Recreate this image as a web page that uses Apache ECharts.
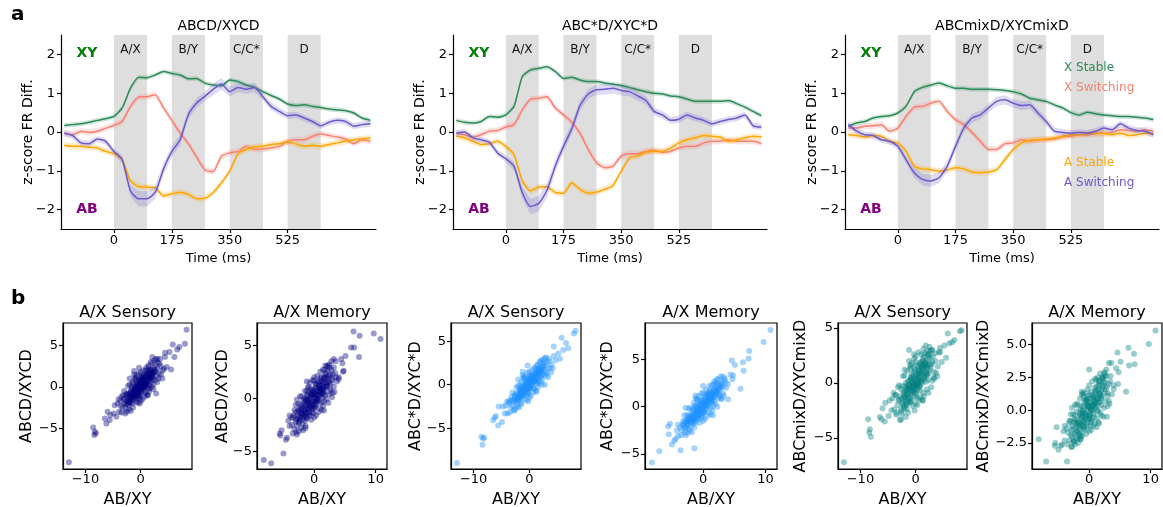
<!DOCTYPE html>
<html>
<head>
<meta charset="utf-8">
<script src="https://cdn.jsdelivr.net/npm/echarts@6/dist/echarts.min.js"></script>
<style>
  html, body { margin: 0; padding: 0; background: #fff; }
  #chart { width: 1163px; height: 507px; }
</style>
</head>
<body>
<div id="chart"></div>
<script>
// ---------- time courses (z-scored firing-rate difference) ----------
const timeMs = [-150, -125, -100, -75, -50, -25, 0, 25, 50, 75, 100, 125, 150, 175, 200, 225, 250, 275, 300,
  325, 350, 375, 400, 425, 450, 475, 500, 525, 550, 575, 600, 625, 650, 675, 700, 725, 750, 775];
const timeTicks = [0, 175, 350, 525];
const zTicks = [-2, -1, 0, 1, 2];

// stimulus epochs
const epochStart = [0, 175, 350, 525];
const epochEnd = [100, 275, 450, 625];
const epochLabel = ['A/X', 'B/Y', 'C/C*', 'D'];

const lineNames = ['X Stable', 'X Switching', 'A Stable', 'A Switching'];

// ABCD/XYCD
const xStable_ABCD = [0.17, 0.19, 0.21, 0.25, 0.30, 0.34, 0.40, 0.62, 1.13, 1.41, 1.40, 1.47, 1.56, 1.51, 1.47, 1.37, 1.38, 1.26, 1.21,
  1.19, 1.34, 1.30, 1.21, 1.15, 1.04, 0.94, 0.85, 0.72, 0.68, 0.70, 0.66, 0.63, 0.59, 0.57, 0.55, 0.49, 0.36, 0.30];
const xSwitch_ABCD = [-0.03, -0.07, 0.02, -0.01, 0.02, 0.10, 0.17, 0.27, 0.66, 0.90, 0.91, 0.96, 0.62, 0.30, -0.03, -0.30, -0.65, -0.98, -1.02,
  -0.62, -0.54, -0.50, -0.37, -0.45, -0.44, -0.41, -0.37, -0.24, -0.20, -0.20, -0.11, -0.05, -0.09, -0.13, -0.18, -0.30, -0.20, -0.24];
const aStable_ABCD = [-0.34, -0.37, -0.37, -0.39, -0.41, -0.50, -0.56, -0.71, -1.26, -1.41, -1.42, -1.44, -1.65, -1.59, -1.55, -1.61, -1.72, -1.71, -1.56,
  -1.31, -1.01, -0.56, -0.45, -0.38, -0.37, -0.32, -0.30, -0.26, -0.31, -0.37, -0.34, -0.37, -0.32, -0.28, -0.24, -0.20, -0.18, -0.15];
const aSwitch_ABCD = [-0.03, -0.09, -0.28, -0.30, -0.18, -0.24, -0.50, -0.71, -1.52, -1.72, -1.72, -1.55, -0.95, -0.50, -0.20, 0.45, 0.75, 0.92, 1.10,
  1.24, 1.04, 1.15, 1.10, 1.15, 0.91, 0.66, 0.53, 0.42, 0.44, 0.36, 0.27, 0.16, 0.25, 0.30, 0.27, 0.15, 0.19, 0.21];
const aSwitchSem_ABCD = [0.08, 0.08, 0.08, 0.08, 0.08, 0.08, 0.08, 0.10, 0.15, 0.20, 0.20, 0.18, 0.15, 0.14, 0.14, 0.13, 0.12, 0.12, 0.15,
  0.15, 0.13, 0.12, 0.12, 0.12, 0.10, 0.10, 0.09, 0.09, 0.08, 0.08, 0.08, 0.08, 0.08, 0.08, 0.08, 0.08, 0.08, 0.08];

// ABC*D/XYC*D
const xStable_ABCstarD = [0.30, 0.25, 0.23, 0.27, 0.40, 0.38, 0.44, 0.66, 1.43, 1.60, 1.64, 1.68, 1.56, 1.38, 1.41, 1.34, 1.30, 1.30, 1.26,
  1.23, 1.20, 1.15, 1.09, 1.04, 1.00, 0.98, 0.93, 0.91, 0.85, 0.79, 0.79, 0.79, 0.79, 0.81, 0.73, 0.64, 0.53, 0.42];
const xSwitch_ABCstarD = [-0.03, -0.07, -0.13, -0.07, 0.02, 0.04, 0.13, 0.19, 0.57, 0.85, 0.87, 0.91, 0.62, 0.44, 0.25, -0.03, -0.45, -0.79, -0.92,
  -0.88, -0.62, -0.56, -0.56, -0.50, -0.47, -0.52, -0.50, -0.41, -0.37, -0.37, -0.28, -0.24, -0.24, -0.20, -0.24, -0.24, -0.24, -0.30];
const aStable_ABCstarD = [-0.11, -0.15, -0.24, -0.32, -0.30, -0.24, -0.37, -0.58, -1.26, -1.52, -1.42, -1.41, -1.56, -1.58, -1.31, -1.48, -1.58, -1.55, -1.48,
  -1.38, -1.01, -0.67, -0.62, -0.52, -0.50, -0.50, -0.41, -0.28, -0.20, -0.15, -0.09, -0.11, -0.13, -0.24, -0.20, -0.15, -0.11, -0.13];
const aSwitch_ABCstarD = [-0.03, 0.00, -0.15, -0.20, -0.26, -0.54, -0.69, -0.88, -1.56, -1.92, -1.84, -1.50, -0.88, -0.37, 0.08, 0.68, 0.98, 1.09, 1.10,
  1.13, 1.07, 1.04, 0.93, 0.81, 0.53, 0.44, 0.30, 0.33, 0.44, 0.36, 0.30, 0.21, 0.27, 0.32, 0.36, 0.44, 0.16, 0.13];
const aSwitchSem_ABCstarD = [0.08, 0.08, 0.08, 0.08, 0.08, 0.08, 0.09, 0.11, 0.16, 0.20, 0.20, 0.18, 0.16, 0.15, 0.14, 0.13, 0.13, 0.13, 0.14,
  0.14, 0.13, 0.12, 0.12, 0.11, 0.10, 0.10, 0.09, 0.09, 0.09, 0.09, 0.08, 0.08, 0.08, 0.08, 0.08, 0.08, 0.08, 0.08];

// ABCmixD/XYCmixD
const xStable_mixD = [0.15, 0.23, 0.27, 0.36, 0.40, 0.42, 0.49, 0.66, 1.04, 1.15, 1.21, 1.26, 1.19, 1.13, 1.13, 1.10, 1.10, 1.10, 1.09,
  1.07, 1.04, 0.98, 0.87, 0.83, 0.79, 0.70, 0.62, 0.50, 0.44, 0.51, 0.47, 0.44, 0.42, 0.40, 0.40, 0.38, 0.36, 0.32];
const xSwitch_mixD = [0.10, 0.10, 0.15, 0.16, 0.19, 0.02, 0.10, 0.40, 0.64, 0.66, 0.74, 0.79, 0.53, 0.32, 0.19, -0.01, -0.24, -0.45, -0.45,
  -0.30, -0.28, -0.20, -0.24, -0.20, -0.20, -0.18, -0.13, -0.11, -0.07, -0.07, -0.04, -0.03, -0.01, 0.06, 0.04, 0.02, 0.06, 0.02];
const aStable_mixD = [-0.07, -0.09, -0.13, -0.09, -0.11, -0.24, -0.28, -0.50, -0.88, -0.95, -0.97, -1.01, -0.98, -0.92, -0.95, -1.03, -1.05, -1.03, -0.97,
  -0.71, -0.45, -0.28, -0.21, -0.20, -0.18, -0.15, -0.11, -0.07, -0.07, -0.04, -0.03, -0.04, -0.07, -0.03, -0.09, -0.07, -0.03, -0.04];
const aSwitch_mixD = [0.19, 0.02, -0.07, -0.09, -0.20, -0.24, -0.37, -0.71, -1.05, -1.22, -1.26, -1.18, -0.88, -0.37, 0.10, 0.36, 0.44, 0.62, 0.79,
  0.83, 0.74, 0.68, 0.70, 0.49, 0.27, 0.02, -0.01, -0.03, -0.01, -0.03, 0.02, 0.10, 0.06, 0.21, 0.10, 0.04, 0.02, -0.07];
const aSwitchSem_mixD = [0.08, 0.08, 0.08, 0.08, 0.08, 0.08, 0.08, 0.10, 0.13, 0.15, 0.15, 0.14, 0.13, 0.12, 0.12, 0.12, 0.11, 0.11, 0.12,
  0.12, 0.11, 0.11, 0.11, 0.10, 0.10, 0.09, 0.09, 0.08, 0.08, 0.08, 0.08, 0.08, 0.08, 0.08, 0.08, 0.08, 0.08, 0.08];

// standard errors of the other three traces
const semXStable = 0.06;
const semXSwitch = 0.08;
const semAStable = 0.08;

// ---------- single-neuron A/X selectivity (one entry per neuron) ----------
const sensX = [-13.0, 8.3, 8.0, 5.8, 6.6, 4.4, 5.2, 2.1, 5.5, -8.6, -8.4, -8.1, -8.3, -6.5, -5.6, -6.2, -4.9, -4.7, -3.5, -2.0,
  2.8, 1.3, -0.2, 3.4, 4.2, 3.0, 6.1, 7.0, -5.5, -6.0, -3.9, -2.7, -1.2, -0.3, 3.9,
  0.0, 0.5, -0.5, 1.0, -1.0, 1.5, -1.5, 2.0, -2.0, 2.5, -2.5, 3.0, -3.0, 0.3, -0.3, 0.8, -0.8, 1.2, -1.2, 1.8,
  -1.8, 2.2, -2.2, 0.1, -0.1, 0.6, -0.6, 1.4, -1.4, 2.6, -2.6, 3.3, -3.3, 0.9, -0.9, 1.9, -1.9, 2.4, -2.4, 0.4,
  -0.4, 1.1, -1.1, 1.6, -1.6, 2.9, -2.9, 3.6, -3.6, 0.2, -0.2, 0.7, -0.7, 1.3, -1.3, 2.1, -2.1, 2.7, -2.7, 0.0,
  0.4, -0.4, 1.7, -1.7, 3.1, -3.1, 0.9, -0.9, 1.5, -1.5, 2.3, 0.6, -0.6, 1.0, -1.0,
  0.1, -0.2, 0.3, -0.4, 0.6, -0.6, 0.8, -0.8, 1.0, -1.0, 1.2, -1.2, 1.4, -1.4, 1.6, -1.6, 1.8, -1.8, 2.0, -2.0,
  2.2, -2.2, 0.0, 0.5, -0.5, 0.2, -0.1, 0.7, -0.7, 0.9, -0.9, 1.1, -1.1, 1.3, -1.3, 1.5, -1.5, 1.7, -1.7, 1.9,
  -1.9, 2.1, -2.1, 2.3, -2.3, 2.5, -2.5, 0.4, -0.3, 0.6, -0.6, 1.0, -1.0, 1.4, -1.4, 0.3, -0.3, 0.8, -0.8, 1.2,
  -1.2, 1.6, -1.6, 2.0, -2.0, 0.1, -0.1, 0.5, -0.5, 0.0,
  0.0, 0.0, 0.5, -0.5, 1.0, -1.0, 1.5, -1.5, 2.0, -2.0, 2.5, -2.5, 3.0, -3.0, 3.5, -3.5, 4.0, -4.0, 1.2, -1.2,
  0.7, -0.7, 1.8, -1.8, 2.3, -2.3, 0.3, -0.3, 2.8, -2.8, 3.2, -3.2, 1.4, -1.4, 0.9, -0.9, 2.1, -2.1, 3.7, -3.7,
  4.4, -4.4, 4.7, -4.2, 0.2, -0.2, 1.6, -1.6, 2.6, -2.6];
const sensY_ABCD = [-9.1, 6.9, 5.2, 5.1, 4.5, 4.1, 4.2, 3.6, 2.1, -4.9, -5.8, -5.6, -5.4, -3.8, -4.0, -4.4, -3.2, -2.2, -1.2, 1.0,
  -0.8, -1.0, -2.0, 2.8, 2.2, 3.3, 3.6, 4.8, -3.4, -3.0, -3.0, -2.6, 1.9, 2.3, 1.0,
  0.3, 0.6, -0.2, 1.0, -0.5, 1.2, -1.2, 1.6, -1.4, 1.8, -1.7, 2.2, -2.0, -0.4, 0.8, 0.0, 0.2, 0.4, -1.3, 2.0,
  -0.6, 0.9, -2.2, 1.2, -1.0, 1.5, -1.4, -0.2, 0.4, 2.6, -0.9, 1.6, -2.5, 2.0, -1.8, 0.6, -1.9, 2.3, -0.8, 0.0,
  0.4, 1.6, -0.1, 0.2, -1.6, 1.3, -1.5, 2.5, -2.3, 0.9, -0.6, -0.6, 0.6, 1.9, -0.9, 1.2, -1.0, 1.9, -2.1, -0.3,
  1.0, -0.9, 1.5, -0.3, 2.9, -1.4, 0.5, -0.3, 2.4, -2.0, 0.3, -0.1, 0.0, 0.3, 0.9,
  0.5, 0.1, 0.2, -0.6, 0.8, -0.3, 1.1, -0.9, 0.6, -0.2, 1.3, -0.7, 0.9, -1.0, 1.7, -0.8, 1.0, -1.5, 2.1, -0.9,
  1.4, -1.6, 0.0, -0.1, 0.3, -0.2, 0.6, 0.3, -1.1, 1.4, 0.0, 0.1, -1.5, 1.6, -0.4, 0.7, -1.1, 1.2, -1.3, 1.5,
  -0.7, 1.8, -1.8, 1.7, -1.3, 2.0, -2.0, 0.7, -0.4, 0.2, 0.2, 1.3, -1.2, 1.1, -0.5, 1.0, -1.1, 0.5, -0.4, 0.8,
  -0.9, 2.0, -1.2, 1.2, -1.9, -0.6, 0.9, 1.2, -0.9, 0.8,
  1.8, -1.7, 2.0, -1.9, 2.3, 1.2, -0.6, 0.6, 0.0, 0.3, 3.2, -3.0, 0.6, -0.5, 3.4, -3.1, 2.0, -1.5, -1.0, 1.5,
  -1.2, 1.4, 3.0, -2.9, -0.3, 0.1, -1.5, 1.6, 3.4, -3.2, 1.0, -1.0, 2.6, -2.5, -0.8, 1.0, 2.9, -2.7, 1.5, -1.7,
  3.6, -3.6, 2.4, -2.0, 1.3, -1.3, -0.2, 0.0, 0.8, -1.0];
const sensY_ABCstarD = [-9.0, 6.2, 5.9, 5.4, 4.8, 4.4, 3.6, 2.8, 3.0, -6.0, -6.9, -6.1, -6.2, -4.1, -4.7, -3.8, -4.3, -2.5, -1.8, 0.6,
  0.0, -0.8, -1.9, 0.85, 1.9, 3.1, 4.0, 4.2, -2.5, -3.6, -3.3, -2.9, 1.5, 2.2, 1.4,
  0.2, 0.5, -0.3, 0.9, -0.7, 1.4, -0.8, 1.5, -1.6, 2.0, -2.0, 2.3, -2.4, -0.2, 0.6, 0.3, -0.1, 0.6, -1.0, 1.9,
  -0.4, 1.1, -2.3, 1.0, -0.9, 1.2, -1.2, 0.2, 0.0, 2.5, -1.2, 1.9, -2.6, 1.8, -1.6, 0.8, -1.8, 2.1, -1.0, 0.1,
  0.3, 1.3, -0.3, 0.4, -1.4, 1.4, -1.9, 2.7, -2.0, 0.7, -0.5, -0.4, 0.4, 1.7, -1.3, 1.0, -1.2, 1.7, -1.6, -0.4,
  0.8, -0.6, 1.6, -0.6, 2.6, -1.8, 0.7, -0.2, 2.2, -2.1, 0.6, 0.0, 0.2, 0.5, 0.8,
  0.3, -0.1, 0.4, -0.3, 0.7, -0.5, 0.9, -0.7, 0.8, -0.4, 1.1, -0.9, 1.2, -0.8, 1.5, -1.1, 1.3, -1.3, 1.8, -1.2,
  1.6, -1.7, 0.1, 0.2, 0.0, -0.3, 0.4, 0.6, -0.9, 1.2, -0.2, 0.4, -1.2, 1.4, -0.6, 0.9, -1.4, 1.4, -1.0, 1.3,
  -0.9, 2.0, -1.5, 1.8, -1.6, 2.2, -1.8, 0.5, -0.2, 0.3, 0.1, 1.0, -1.0, 0.9, -0.7, 0.8, -0.8, 0.5, -0.6, 0.7,
  -1.1, 1.8, -1.5, 1.5, -1.7, -0.4, 0.7, 1.0, -0.7, 0.5,
  1.5, -1.5, 1.7, -1.8, 2.0, 0.9, -0.3, 0.3, 0.3, -0.1, 2.9, -2.8, 1.0, -0.9, 3.0, -3.2, 2.3, -1.9, -0.7, 1.1,
  -0.9, 1.0, 2.6, -2.6, 0.0, -0.3, -1.3, 1.4, 3.1, -3.0, 1.3, -1.4, 2.3, -2.2, -0.5, 0.7, 2.6, -2.5, 1.9, -2.1,
  3.3, -3.3, 2.8, -2.4, 1.1, -1.1, 0.1, -0.3, 1.2, -1.3];
const sensY_mixD = [-7.2, 4.8, 4.7, 4.5, 3.7, 3.2, 3.4, 2.6, 2.3, -3.3, -4.5, -4.9, -4.2, -3.1, -3.5, -3.3, -3.0, -1.6, -2.9, 1.2,
  -0.4, -1.6, -2.5, 0.4, 2.8, 3.0, 3.6, 3.9, -1.8, -2.3, -2.4, -3.3, 3.0, 2.6, 0.6,
  0.4, 0.2, 0.1, 0.9, -0.4, 0.6, -1.0, 1.5, -0.9, 1.2, -1.8, 1.9, -1.5, -0.6, 1.0, -0.3, 0.5, 1.5, -1.3, 2.0,
  0.0, 0.3, -2.1, 1.6, -1.2, 1.1, -0.8, -0.9, -0.2, 2.3, -0.6, 1.0, -2.0, 1.9, -1.7, 0.1, -1.4, 2.6, -0.3, 0.7,
  -0.1, 1.3, 0.2, 0.5, -2.0, 1.7, -1.2, 2.0, -1.1, -0.2, -0.9, -0.7, 0.8, 2.2, -0.5, 0.8, -1.3, 1.4, -2.4, -0.3,
  0.6, -0.6, 1.8, -0.7, 2.4, -1.6, 1.0, 0.3, 2.4, -1.7, 0.9, -0.2, -0.4, 0.1, 1.3,
  0.8, 0.4, -0.1, -0.2, 1.2, 0.1, 0.6, -1.1, 1.4, -0.9, 0.8, -0.1, 1.7, -1.5, 1.0, -0.5, 1.8, -1.2, 1.3, -1.6,
  2.1, -0.8, -0.5, 0.3, 0.6, 0.0, 1.1, -0.4, -0.7, 1.7, 0.5, 0.2, -1.8, 2.0, -0.2, 0.4, -0.6, 1.6, -1.9, 0.9,
  -0.3, 1.6, -1.1, 2.5, -1.9, 1.7, -1.4, 0.0, -0.8, 0.9, -0.3, 0.3, -1.4, 1.2, 0.2, 0.5, -0.4, 1.8, -1.6, 0.0,
  -0.6, 1.4, -1.0, 0.7, -2.2, -1.0, 0.2, 1.5, -0.1, 1.9,
  2.4, -1.9, 2.8, -2.1, 2.6, 1.6, -1.2, 1.1, -0.6, 0.7, 3.3, -2.8, 0.2, -0.2, 2.7, -2.7, 1.5, -0.9, -1.6, 2.0,
  -1.5, 1.8, 3.4, -3.1, -0.9, 0.6, -2.0, 2.2, 3.0, -3.4, 0.5, -0.4, 3.1, -2.7, -1.3, 1.5, 2.9, -2.3, 0.9, -1.1,
  2.8, -2.5, 1.9, -1.4, -1.4, 1.3, 2.7, -2.4, 2.9, -2.6];

const memX = [-8.2, -7.0, -5.0, -4.6, -5.5, 6.4, 7.4, 9.7, 10.8, 7.3, 6.5, 6.0, 3.2, 1.7, -2.8, 2.9, 1.6, -2.9, -1.4, -3.6,
  -5.3, -5.6, 4.6, 5.1, 3.6, 0.0, 4.0, -1.2, -3.3, 2.2, -2.3, 4.8, 3.3, -4.0,
  0.0, 0.5, -0.5, 1.0, -1.0, 1.5, -1.5, 2.0, -2.0, 2.5, -2.5, 3.0, -3.0, 0.3, -0.3, 0.8, -0.8, 1.2, -1.2, 1.8,
  -1.8, 2.3, -2.3, 2.8, -2.8, 0.2, -0.2, 0.7, -0.7, 1.4, -1.4, 1.9, -1.9, 2.6, -2.6, 3.4, -3.4, 0.1, -0.1, 0.6,
  -0.6, 1.1, -1.1, 1.6, -1.6, 2.1, -2.1, 2.4, -2.4, 0.4, -0.4, 0.9, -0.9, 1.3, -1.3, 1.7, -1.7, 2.7, -2.7, 3.2,
  -3.2, 0.0, 0.5, -0.5, 1.0, -1.0, 1.5, -1.5, 2.2, -2.2, 0.3, -0.3, 0.8, -0.8, 1.2, -1.2,
  0.1, -0.2, 0.4, -0.4, 0.6, -0.6, 0.9, -0.9, 1.1, -1.1, 1.3, -1.3, 1.5, -1.5, 1.7, -1.7, 1.9, -1.9, 2.1, -2.1,
  2.4, -2.4, 0.0, 0.3, -0.3, 0.7, -0.7, 1.0, -1.0, 1.2, -1.2, 1.6, -1.6, 2.0, -2.0, 2.6, -2.6, 0.2, -0.2, 0.5,
  -0.5, 0.8, -0.8, 1.4, -1.4, 1.8, -1.8, 2.2, -2.2, 2.9, -2.9, 0.0, 0.4, -0.4, 0.9, -0.9, 1.3, -1.3, 1.7, -1.7,
  0.1, -0.1, 0.6, -0.6, 1.1, -1.1, 2.5, -2.5, 3.0, -3.0,
  0.0, 0.0, 0.5, -0.5, 1.0, -1.0, 1.5, -1.5, 2.0, -2.0, 2.5, -2.5, 3.0, -3.0, 3.5, -3.5, 4.0, -4.0, 1.2, -1.2,
  0.7, -0.7, 1.8, -1.8, 2.3, -2.3, 0.3, -0.3, 2.8, -2.8, 3.2, -3.2, 1.4, -1.4, 0.9, -0.9, 2.1, -2.1, 3.7, -3.7,
  4.4, -4.4, 4.7, -4.2, 0.2, -0.2, 1.6, -1.6, 2.6, -2.6];
const memY_ABCD = [-5.8, -6.1, -5.2, -3.9, -3.5, 6.3, 5.9, 6.1, 5.6, 3.9, 4.8, 4.8, 3.7, 2.7, -0.1, 0.1, -1.15, -3.2, -2.8, -2.5,
  -3.0, -3.3, 3.3, 4.0, 2.0, 2.0, 1.8, 0.7, -1.6, 3.1, -2.0, 2.6, 0.6, -2.6,
  0.1, 0.7, -0.4, 0.8, -0.9, 1.5, -0.7, 1.1, -1.7, 2.2, -1.2, 1.9, -2.2, 1.3, -1.3, -0.3, 0.5, 2.0, -1.9, 0.3,
  -0.2, 1.6, -1.0, 2.7, -2.6, -0.7, 0.6, 1.6, -1.6, 0.1, -1.3, 2.4, -2.4, 0.9, -0.5, 2.4, -1.8, 0.4, -0.2, -0.1,
  0.0, 1.2, -0.4, 0.9, -1.1, 1.9, -1.4, 0.4, -2.2, 0.3, 0.3, 1.0, -1.1, 0.6, -0.1, 2.0, -1.5, 1.4, -1.6, 2.9,
  -2.9, -0.9, 0.0, 0.9, 1.9, -0.1, 0.7, -2.1, 2.6, -0.6, -0.3, -0.6, 0.4, -0.6, -0.4, 0.2,
  0.4, -0.3, 0.9, -0.8, 0.3, 0.1, 1.3, -0.4, 0.5, -1.4, 1.6, -0.6, 1.1, -1.3, 1.5, -0.9, 1.1, -1.5, 2.0, -1.1,
  1.5, -1.8, 0.5, -0.5, 0.3, 0.8, -0.9, 0.2, -0.2, 1.7, -1.0, 0.6, -1.7, 1.4, -0.8, 2.1, -1.9, 1.0, -1.0, -0.2,
  0.4, 1.2, -1.3, 0.4, -0.2, 2.2, -1.9, 1.2, -1.4, 1.7, -2.0, -0.4, 0.0, 0.7, 0.6, -1.6, 0.9, -1.8, 1.9, -0.5,
  -0.8, 0.8, 1.5, -0.7, 1.0, 0.4, 2.9, -2.3, 2.3, -1.3,
  1.7, -1.8, 2.1, -2.0, 2.5, 1.0, -0.7, 0.7, -0.1, 0.2, 3.2, -3.1, 0.5, -0.6, 3.5, -3.3, 2.0, -1.6, -1.1, 1.6,
  -1.3, 1.5, 3.1, -3.0, -0.4, 0.2, -1.6, 1.7, 3.5, -3.4, 1.1, -1.1, 2.7, -2.6, -0.9, 1.1, 3.0, -2.8, 1.6, -1.8,
  3.7, -3.7, 2.5, -2.1, 1.4, -1.4, -0.3, 0.0, 0.7, -1.1];
const memY_ABCstarD = [-5.9, -4.7, -4.0, -3.6, -2.9, 4.7, 5.9, 6.85, 8.1, 5.1, 3.8, 1.9, 3.2, 2.4, -0.1, 0.8, -0.9, -2.7, -4.4, -4.6,
  -1.8, -2.1, 4.9, 4.4, 2.6, 2.2, 0.8, 0.9, -1.9, 2.9, -2.4, 3.3, 1.2, -3.1,
  0.0, 0.5, -0.3, 1.1, -0.6, 1.2, -1.1, 1.6, -1.5, 1.9, -1.8, 2.4, -2.0, 1.0, -1.0, 0.1, 0.3, 1.8, -1.7, 0.6,
  -0.4, 1.4, -1.3, 2.3, -2.2, -0.5, 0.7, 1.4, -1.3, 0.4, -0.8, 2.1, -2.0, 1.3, -0.9, 2.8, -2.5, 0.3, -0.1, 0.2,
  -0.2, 0.8, -0.7, 1.0, -1.4, 1.5, -1.0, 0.9, -1.9, 0.6, 0.0, 1.3, -0.8, 0.7, 0.1, 1.7, -1.2, 1.8, -1.4, 2.1,
  -1.9, -0.7, -0.2, 0.6, 1.6, -0.2, 1.0, -1.8, 2.3, -0.9, 0.0, -0.4, 0.5, -0.9, -0.1, -0.1,
  0.3, -0.2, 0.7, -0.6, 0.5, -0.1, 1.0, -0.5, 0.8, -1.1, 1.4, -0.8, 1.3, -1.0, 1.2, -1.2, 1.5, -1.6, 1.9, -1.4,
  1.7, -1.5, 0.4, -0.3, 0.2, 0.6, -0.8, 0.4, -0.4, 1.5, -1.3, 0.9, -1.4, 1.2, -1.0, 2.0, -1.7, 0.8, -0.8, 0.1,
  0.2, 1.1, -1.0, 0.6, -0.5, 1.8, -1.6, 1.6, -1.2, 2.1, -2.3, -0.5, 0.2, 0.4, 0.9, -1.3, 0.7, -1.5, 1.6, -0.8,
  -0.6, 0.6, 1.3, -0.4, 1.2, 0.1, 2.4, -2.0, 2.6, -1.6,
  1.5, -1.5, 1.8, -1.7, 2.2, 0.8, -0.4, 0.4, 0.3, -0.1, 2.9, -2.8, 0.9, -0.9, 3.0, -3.0, 2.4, -1.9, -0.8, 1.2,
  -1.0, 1.1, 2.7, -2.7, 0.0, -0.2, -1.3, 1.4, 3.2, -3.0, 1.4, -1.5, 2.3, -2.2, -0.6, 0.8, 2.6, -2.5, 2.0, -2.2,
  3.4, -3.4, 2.9, -2.5, 1.2, -1.1, 0.1, -0.3, 1.1, -1.4];
const memY_mixD = [-2.2, -3.9, -3.0, -2.7, -2.5, 4.75, 3.5, 5.05, 6.06, 4.3, 3.4, 1.4, 3.6, 2.2, 0.2, -0.5, -1.0, -2.8, -2.2, -3.9,
  -1.3, -2.7, 4.4, 3.7, 3.6, 3.1, 1.9, 1.2, -1.0, 2.4, -2.6, 2.9, 0.5, -2.3,
  0.2, 0.9, -0.5, 0.4, -0.8, 1.6, -0.2, 0.9, -1.6, 2.1, -0.9, 1.3, -1.9, 1.4, -1.2, -0.5, 0.6, 2.3, -1.9, -0.2,
  0.4, 1.8, -0.4, 2.6, -2.0, -0.9, 0.3, 1.0, -1.5, 0.0, -1.1, 1.5, -2.2, 0.7, -0.3, 2.2, -1.7, -0.3, 0.5, 0.4,
  -0.6, 1.3, 0.0, 0.6, -1.3, 1.1, -0.7, 0.2, -1.8, 0.0, 0.9, 1.7, -1.4, 0.8, -0.4, 1.2, -1.0, 1.6, -1.2, 2.0,
  -2.3, -0.4, 0.3, 0.7, 1.4, -0.1, 0.9, -1.7, 1.9, -1.0, -0.7, 0.0, 0.6, -0.9, -0.6, 0.3,
  0.6, 0.2, 0.1, -1.0, 1.1, -0.3, 0.5, 0.3, 1.5, -1.2, 0.9, -0.6, 1.9, -0.4, 0.6, -1.5, 1.0, -0.9, 1.6, -1.3,
  2.2, -0.7, -0.6, 0.0, 0.7, -0.3, -0.2, 0.2, -1.1, 1.8, -0.5, 1.3, -1.8, 0.4, -0.1, 1.4, -1.4, 1.2, -0.7, 0.4,
  -0.4, 0.7, -1.3, -0.1, 0.1, 1.2, -1.1, 2.5, -1.7, 1.8, -1.5, 0.9, -0.8, 0.4, 1.0, -0.8, 0.3, -2.0, 2.0, -0.9,
  -0.4, 0.3, 0.0, 0.8, 0.6, -0.2, 2.8, -2.4, 1.1, -0.8,
  1.9, -1.6, 2.2, -1.8, 2.4, 1.3, -0.9, 0.9, -0.4, 0.5, 2.9, -2.4, 0.3, -0.3, 2.6, -2.6, 1.6, -1.2, -1.3, 1.4,
  -1.2, 1.3, 2.8, -2.5, -0.5, 0.4, -1.5, 1.6, 3.1, -2.8, 0.7, -0.8, 2.5, -2.2, -1.0, 1.0, 2.5, -2.1, 1.2, -1.4,
  3.2, -2.6, 2.0, -1.6, -1.2, 1.1, 2.2, -2.0, 2.6, -2.3];

// ---------- drawing ----------
const FONT = '"DejaVu Sans", Verdana, sans-serif';
const BLACK = '#000';
const lineColors = ['#2e8b57', '#fa8072', '#ffa500', '#6a5acd'];

const minusFmt = v => (v < 0 ? '\u2212' : '') + Math.abs(v);
const minusFmt1 = v => (v < 0 ? '\u2212' : '') + Math.abs(v).toFixed(1);

const timePanels = [
  { title: 'ABCD/XYCD', left: 61, width: 315,
    lines: [xStable_ABCD, xSwitch_ABCD, aStable_ABCD, aSwitch_ABCD], sems: [semXStable, semXSwitch, semAStable, aSwitchSem_ABCD] },
  { title: 'ABC*D/XYC*D', left: 453, width: 314,
    lines: [xStable_ABCstarD, xSwitch_ABCstarD, aStable_ABCstarD, aSwitch_ABCstarD], sems: [semXStable, semXSwitch, semAStable, aSwitchSem_ABCstarD] },
  { title: 'ABCmixD/XYCmixD', left: 845, width: 314,
    lines: [xStable_mixD, xSwitch_mixD, aStable_mixD, aSwitch_mixD], sems: [semXStable, semXSwitch, semAStable, aSwitchSem_mixD] }
];
const TOP_Y = 35, TOP_H = 194;

const scatterPanels = [
  { title: 'A/X Sensory', yName: 'ABCD/XYCD', x: sensX, y: sensY_ABCD, color: 'rgba(0,0,128,0.5)',
    left: 63, width: 129, xMin: -14.06, xMax: 9.28, yMin: -9.9, yMax: 7.7, xTicks: [-10, 0], yTicks: [-5, 0, 5], yGap: 28 },
  { title: 'A/X Memory', yName: 'ABCD/XYCD', x: memX, y: memY_ABCD, color: 'rgba(0,0,128,0.5)',
    left: 257, width: 130, xMin: -9.3, xMax: 11.85, yMin: -6.65, yMax: 7.1, xTicks: [0, 10], yTicks: [-5, 0, 5], yGap: 26 },
  { title: 'A/X Sensory', yName: 'ABC*D/XYC*D', x: sensX, y: sensY_ABCstarD, color: 'rgba(30,144,255,0.5)',
    left: 451, width: 130, xMin: -14.06, xMax: 9.28, yMin: -9.7, yMax: 7.1, xTicks: [-10, 0], yTicks: [-5, 0, 5], yGap: 27 },
  { title: 'A/X Memory', yName: 'ABC*D/XYC*D', x: memX, y: memY_ABCstarD, color: 'rgba(30,144,255,0.5)',
    left: 645, width: 132, xMin: -9.3, xMax: 11.85, yMin: -6.58, yMax: 8.85, xTicks: [0, 10], yTicks: [-5, 0, 5], yGap: 29 },
  { title: 'A/X Sensory', yName: 'ABCmixD/XYCmixD', x: sensX, y: sensY_mixD, color: 'rgba(0,128,128,0.5)',
    left: 838, width: 129, xMin: -14.06, xMax: 9.28, yMin: -7.82, yMax: 5.45, xTicks: [-10, 0], yTicks: [-5, 0, 5], yGap: 29 },
  { title: 'A/X Memory', yName: 'ABCmixD/XYCmixD', x: memX, y: memY_mixD, color: 'rgba(0,128,128,0.5)',
    left: 1032, width: 130, xMin: -9.3, xMax: 11.85, yMin: -4.47, yMax: 6.64, xTicks: [0, 10], yTicks: [-2.5, 0, 2.5, 5], yGap: 40, decimals: true }
];
const SC_Y = 323, SC_H = 146;

function axisCommon(fontSize, ticks, fmt) {
  return {
    axisLine: { show: true, onZero: false, lineStyle: { color: BLACK, width: 1.2 } },
    axisTick: { show: true, inside: false, length: 4, customValues: ticks, lineStyle: { color: BLACK, width: 1.2 } },
    axisLabel: { show: true, customValues: ticks, color: BLACK, fontSize: fontSize, fontFamily: FONT, margin: 5, formatter: fmt },
    splitLine: { show: false },
    nameLocation: 'middle',
    nameMoveOverlap: false,
    nameTextStyle: { color: BLACK, fontFamily: FONT, fontSize: fontSize }
  };
}

const grids = [], xAxes = [], yAxes = [], series = [], titles = [], graphics = [];

timePanels.forEach((p, gi) => {
  grids.push({ left: p.left, top: TOP_Y, width: p.width, height: TOP_H, containLabel: false, outerBoundsMode: 'none' });
  xAxes.push(Object.assign(axisCommon(13, timeTicks, minusFmt), {
    gridIndex: gi, type: 'value', min: -160, max: 792, name: 'Time (ms)', nameGap: 23
  }));
  const ya = Object.assign(axisCommon(13, zTicks, minusFmt), {
    gridIndex: gi, type: 'value', min: -2.5, max: 2.5, name: 'z-score FR Diff.', nameGap: 26
  });
  ya.axisLabel.margin = 6;
  ya.nameTextStyle.fontSize = 14;
  yAxes.push(ya);

  titles.push({ text: p.title, left: p.left + p.width / 2, top: 19, textAlign: 'center', padding: 0,
    textStyle: { fontFamily: FONT, fontSize: 14, fontWeight: 'normal', color: BLACK } });

  // grey stimulus epochs with their labels
  series.push({
    type: 'custom', xAxisIndex: gi, yAxisIndex: gi, z: 1, silent: true,
    data: epochStart.map((s, i) => [s, epochEnd[i], 0]),
    encode: { x: [0, 1], y: 2 },
    renderItem: (params, api) => {
      const cs = params.coordSys;
      const x0 = api.coord([api.value(0), 0])[0];
      const x1 = api.coord([api.value(1), 0])[0];
      return { type: 'group', children: [
        { type: 'rect', shape: { x: x0, y: cs.y, width: x1 - x0, height: cs.height }, style: { fill: '#dedede' } },
        { type: 'text', style: { text: epochLabel[params.dataIndex], x: (x0 + x1) / 2, y: cs.y + 15,
          align: 'center', verticalAlign: 'middle', textAlign: 'center', textVerticalAlign: 'middle',
          fill: '#111', font: '12px ' + FONT } }
      ] };
    }
  });

  p.lines.forEach((mean, li) => {
    const sem = p.sems[li];
    const semAt = i => (Array.isArray(sem) ? sem[i] : sem);
    const lo = mean.map((m, i) => m - semAt(i));
    const hi = mean.map((m, i) => m + semAt(i));
    // shaded standard-error band
    series.push({
      type: 'custom', xAxisIndex: gi, yAxisIndex: gi, z: 2 + li * 2, silent: true,
      data: timeMs.map((t, i) => [t, lo[i], hi[i]]),
      encode: { x: 0, y: [1, 2] },
      renderItem: (params, api) => {
        if (params.dataIndex !== 0) return null;
        const upper = timeMs.map((t, i) => api.coord([t, hi[i]]));
        const lower = timeMs.map((t, i) => api.coord([t, lo[i]])).reverse();
        return { type: 'polygon', shape: { points: upper.concat(lower), smooth: 0 },
          style: { fill: lineColors[li], opacity: 0.22 } };
      }
    });
    series.push({
      type: 'line', name: lineNames[li], xAxisIndex: gi, yAxisIndex: gi, z: 3 + li * 2,
      data: timeMs.map((t, i) => [t, mean[i]]),
      showSymbol: false, symbol: 'none', smooth: 0.2, silent: true,
      lineStyle: { color: lineColors[li], width: 1.5 }
    });
  });

  graphics.push({ type: 'text', x: p.left + 26, y: 53, z: 100,
    style: { text: 'XY', font: 'bold 14px ' + FONT, fill: '#008000', textAlign: 'center', textVerticalAlign: 'middle', align: 'center', verticalAlign: 'middle' } });
  graphics.push({ type: 'text', x: p.left + 26, y: 209.5, z: 100,
    style: { text: 'AB', font: 'bold 14px ' + FONT, fill: '#800080', textAlign: 'center', textVerticalAlign: 'middle', align: 'center', verticalAlign: 'middle' } });
});

// trace key inside the third panel
const keyY = [68, 88, 163, 183];
lineNames.forEach((n, i) => {
  graphics.push({ type: 'text', x: 1064, y: keyY[i], z: 100,
    style: { text: n, font: '12px ' + FONT, fill: lineColors[i], textAlign: 'left', textVerticalAlign: 'middle', align: 'left', verticalAlign: 'middle' } });
});

scatterPanels.forEach((s, k) => {
  const gi = 3 + k;
  grids.push({ left: s.left, top: SC_Y, width: s.width, height: SC_H, containLabel: false, outerBoundsMode: 'none',
    show: true, borderColor: BLACK, borderWidth: 1.2, backgroundColor: 'transparent' });
  const xa = Object.assign(axisCommon(13, s.xTicks, minusFmt), {
    gridIndex: gi, type: 'value', min: s.xMin, max: s.xMax, name: 'AB/XY', nameGap: 23
  });
  xa.nameTextStyle.fontSize = 16;
  xa.axisLabel.margin = 4;
  xAxes.push(xa);
  const ya = Object.assign(axisCommon(13, s.yTicks, s.decimals ? minusFmt1 : minusFmt), {
    gridIndex: gi, type: 'value', min: s.yMin, max: s.yMax, name: s.yName, nameGap: s.yGap
  });
  ya.nameTextStyle.fontSize = 16;
  yAxes.push(ya);
  titles.push({ text: s.title, left: s.left + s.width / 2, top: 305, textAlign: 'center', padding: 0,
    textStyle: { fontFamily: FONT, fontSize: 16, fontWeight: 'normal', color: BLACK } });
  series.push({
    type: 'scatter', xAxisIndex: gi, yAxisIndex: gi, silent: true,
    data: s.x.map((v, i) => [v, s.y[i]]),
    symbolSize: 6,
    itemStyle: { color: s.color, borderWidth: 0 }
  });
});

titles.push({ text: 'a', left: 11, top: 5, padding: 0, textStyle: { fontFamily: FONT, fontSize: 20, fontWeight: 'bold', color: BLACK } });
titles.push({ text: 'b', left: 11, top: 289, padding: 0, textStyle: { fontFamily: FONT, fontSize: 20, fontWeight: 'bold', color: BLACK } });

const chart = echarts.init(document.getElementById('chart'), null, { renderer: 'canvas' });
chart.setOption({
  animation: false,
  backgroundColor: '#fff',
  textStyle: { fontFamily: FONT },
  title: titles,
  grid: grids,
  xAxis: xAxes,
  yAxis: yAxes,
  series: series,
  graphic: { elements: graphics },
  tooltip: { show: false }
});
</script>
</body>
</html>
